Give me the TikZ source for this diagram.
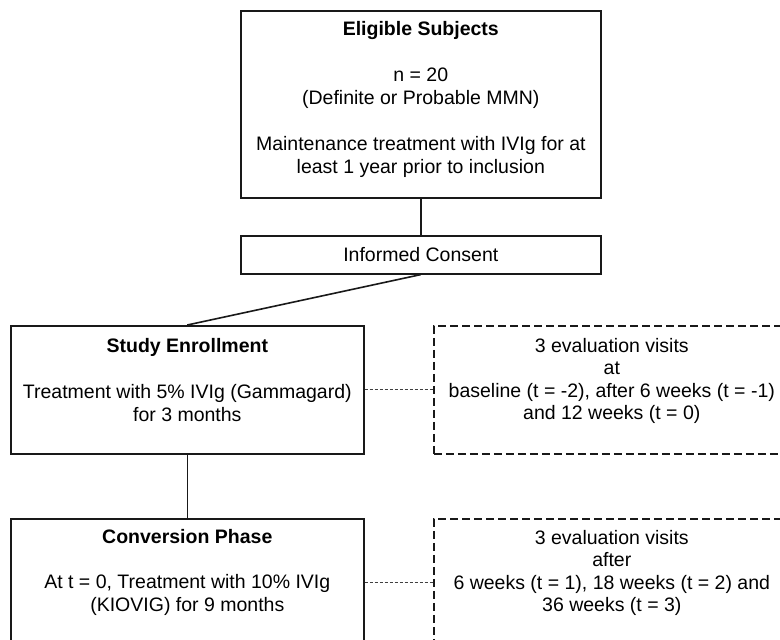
\documentclass[tikz,border=0pt]{standalone}
\usepackage{fontspec}
\setmainfont{Liberation Sans}
\usepackage{tikz}

\begin{document}
\begin{tikzpicture}[x=1pt,y=-1pt]
\tikzset{box/.style = {shape=rectangle,draw=black!90,line width=1.6pt,anchor=north west,inner sep=0pt}}
\tikzset{dbox/.style = {box,dash pattern=on 8pt off 4pt}}
\tikzset{txt/.style = {align=center,anchor=north,inner sep=0pt,font=\fontsize{19.5}{22.5}\selectfont}}
\tikzset{edge/.style = {-,draw=black!90,line width=1.6pt}}
\tikzset{dots/.style = {-,draw=black!75,line width=1pt,dash pattern=on 3pt off 2pt}}

\useasboundingbox (0,0) rectangle (780,640);
\clip (0,0) rectangle (780,640);

\node[box,minimum width=360pt,minimum height=187pt] (elig) at (240,10) {};
\node[box,minimum width=360pt,minimum height=38pt] (consent) at (240,235) {};
\node[box,minimum width=353pt,minimum height=128pt] (study) at (10,325) {};
\node[box,minimum width=353pt,minimum height=128pt] (conv) at (10,518) {};
\node[dbox,minimum width=356pt,minimum height=128pt] (visa) at (433,325) {};
\node[dbox,minimum width=356pt,minimum height=128pt] (visb) at (433,518) {};

\node[txt] (eligtxt) at ([yshift=-11pt]elig.north) {\textbf{Eligible Subjects}\\[24pt] n = 20\\ (Definite or Probable MMN)\\[24pt] Maintenance treatment with IVIg for at\\ least 1 year prior to inclusion};
\node[txt,anchor=center] (consenttxt) at (consent.center) {Informed Consent};
\node[txt] (studytxt) at ([yshift=-13pt]study.north) {\textbf{Study Enrollment}\\[24pt] Treatment with 5\% IVIg (Gammagard)\\ for 3 months};
\node[txt] (convtxt) at ([yshift=-11pt]conv.north) {\textbf{Conversion Phase}\\[23pt] At t = 0, Treatment with 10\% IVIg\\ (KIOVIG) for 9 months};
\node[txt] (visatxt) at ([yshift=-13pt]visa.north) {3 evaluation visits\\ at\\ baseline (t = -2), after 6 weeks (t = -1)\\ and 12 weeks (t = 0)};
\node[txt] (visbtxt) at ([yshift=-12pt]visb.north) {3 evaluation visits\\ after\\ 6 weeks (t = 1), 18 weeks (t = 2) and\\ 36 weeks (t = 3)};

\draw[edge] (elig) to (consent);
\draw[edge] (consent.south) to (study.north);
\draw[edge] (study) to (conv);
\draw[dots] (study) to (visa);
\draw[dots] (conv) to (visb);
\end{tikzpicture}
\end{document}
